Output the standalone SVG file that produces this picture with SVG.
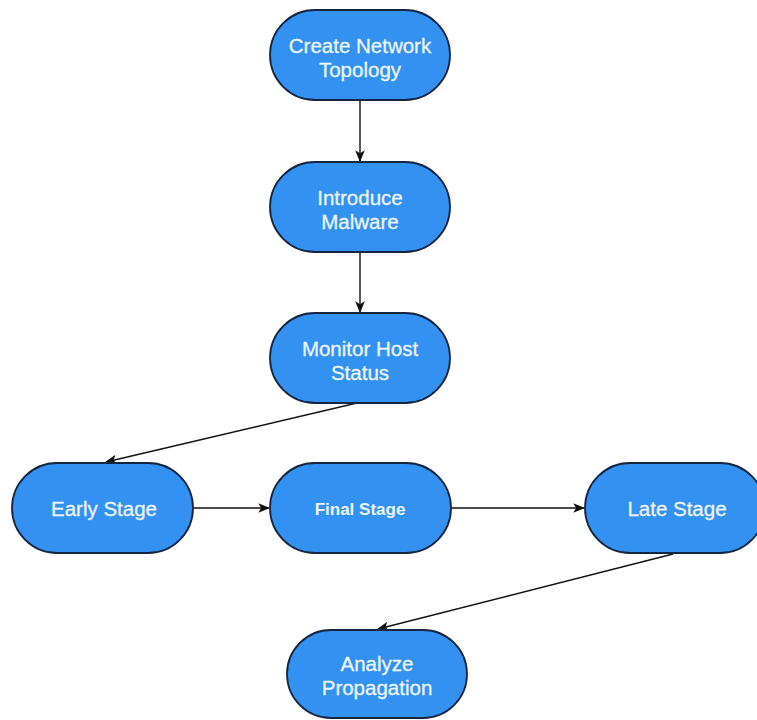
<svg xmlns="http://www.w3.org/2000/svg" width="757" height="720" viewBox="0 0 757 720">
<style>
.n{fill:#3391F1;stroke:#15243F;stroke-width:1.8}
.t{font-family:"Liberation Sans",Arial,sans-serif;font-size:20.5px;fill:#EEF6FF;text-anchor:middle;stroke:#EEF6FF;stroke-width:0.3}
.b{font-weight:bold;font-size:17px;stroke-width:0}
.e{stroke:#111;stroke-width:1.4;fill:none;marker-end:url(#a)}
</style>
<defs>
<marker id="a" viewBox="0 0 10 10" refX="9" refY="5" markerWidth="12" markerHeight="12" markerUnits="userSpaceOnUse" orient="auto">
<path d="M0,1 L10,5 L0,9 L2.5,5 Z" fill="#111"/>
</marker>
</defs>
<rect width="757" height="720" fill="#fff"/>
<g id="edges">
<line class="e" x1="360" y1="100" x2="360" y2="161"/>
<line class="e" x1="360" y1="252" x2="360" y2="312"/>
<line class="e" x1="357" y1="403" x2="106" y2="462"/>
<line class="e" x1="193" y1="508" x2="269" y2="508"/>
<line class="e" x1="451" y1="508" x2="584" y2="508"/>
<line class="e" x1="673" y1="554" x2="378" y2="629"/>
</g>
<g id="create"><rect class="n" x="270" y="10" width="180" height="90" rx="45"/><text class="t" x="360" y="53">Create Network</text><text class="t" x="360" y="77">Topology</text></g>
<g id="introduce"><rect class="n" x="270" y="162" width="180" height="90" rx="45"/><text class="t" x="360" y="205">Introduce</text><text class="t" x="360" y="229">Malware</text></g>
<g id="monitor"><rect class="n" x="270" y="313" width="180" height="90" rx="45"/><text class="t" x="360" y="356">Monitor Host</text><text class="t" x="360" y="380">Status</text></g>
<g id="early"><rect class="n" x="12" y="463" width="181" height="90" rx="45"/><text class="t" x="104" y="516">Early Stage</text></g>
<g id="final"><rect class="n" x="270" y="463" width="181" height="90" rx="45"/><text class="t b" x="360" y="515">Final Stage</text></g>
<g id="late"><rect class="n" x="585" y="463" width="180" height="90" rx="45"/><text class="t" x="677" y="516">Late Stage</text></g>
<g id="analyze"><rect class="n" x="287" y="630" width="180" height="88" rx="44"/><text class="t" x="377" y="671">Analyze</text><text class="t" x="377" y="695">Propagation</text></g>
</svg>
